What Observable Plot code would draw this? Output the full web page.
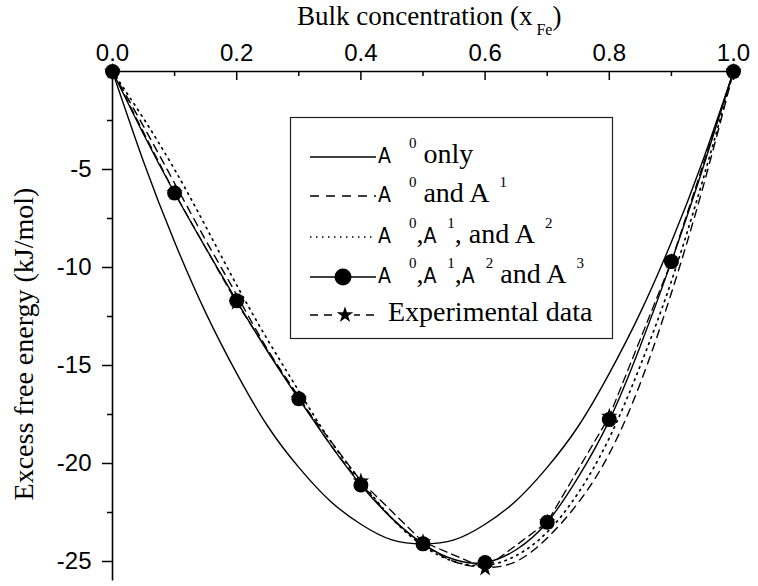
<!DOCTYPE html>
<html>
<head>
<meta charset="utf-8">
<script src="https://cdn.jsdelivr.net/npm/d3@7"></script>
<script src="https://cdn.jsdelivr.net/npm/@observablehq/plot@0.6"></script>
<style>
  html, body { margin: 0; padding: 0; background: #fff; }
  #chart { width: 758px; height: 586px; }
</style>
</head>
<body>
<div id="chart"></div>
<script>
// ---- data ----
const xGrid = [0, 0.05, 0.1, 0.15, 0.2, 0.25, 0.3, 0.35, 0.4, 0.45, 0.5, 0.55, 0.6, 0.65, 0.7, 0.75, 0.8, 0.85, 0.9, 0.95, 1.0];
const a0Only   = [0, -4.6, -8.7, -12.3, -15.4, -18.1, -20.2, -21.9, -23.1, -23.9, -24.1, -23.9, -23.1, -21.9, -20.2, -18.1, -15.4, -12.3, -8.7, -4.6, 0];
const a0a1     = [0, -2.8, -5.7, -8.6, -11.4, -14.2, -16.6, -19.0, -21.0, -22.8, -24.1, -25.0, -25.3, -25.0, -23.8, -22.0, -19.5, -15.9, -11.3, -6.0, 0];
const a0a1a2   = [0, -2.4, -5.0, -7.9, -10.9, -13.7, -16.3, -18.8, -20.9, -22.8, -24.2, -25.0, -25.2, -24.7, -23.5, -21.5, -18.7, -15.0, -10.7, -5.6, 0];
const a0a1a2a3 = [0, -3.2, -6.2, -9.0, -11.7, -14.3, -16.7, -19.0, -21.1, -22.8, -24.1, -24.9, -25.05, -24.4, -23.0, -20.7, -17.8, -14.0, -9.7, -5.0, 0];

const xPoints   = [0, 0.1, 0.2, 0.3, 0.4, 0.5, 0.6, 0.7, 0.8, 0.9, 1.0];
const fitPoints = [0, -6.2, -11.7, -16.7, -21.1, -24.1, -25.05, -23.0, -17.76, -9.7, 0];
const expPoints = [0, -6.2, -11.8, -16.7, -20.9, -24.0, -25.35, -23.0, -17.6, -9.7, 0];

const xTickValues  = [0, 0.2, 0.4, 0.6, 0.8, 1.0];
const xMinorTicks  = [0.1, 0.3, 0.5, 0.7, 0.9];
const yTickValues  = [-5, -10, -15, -20, -25];
const yMinorTicks  = [-2.5, -7.5, -12.5, -17.5, -22.5];

const xTitle = "Bulk concentration (x";
const xTitleSub = "Fe";
const yTitle = "Excess free energy (kJ/mol)";

// ---- build tables ----
const rows = (xs, ys) => xs.map((x, i) => ({x, y: ys[i]}));
const curveA0 = rows(xGrid, a0Only);
const curveA01 = rows(xGrid, a0a1);
const curveA012 = rows(xGrid, a0a1a2);
const curveA0123 = rows(xGrid, a0a1a2a3);
const fitRows = rows(xPoints, fitPoints);
const expRows = rows(xPoints, expPoints);

const SERIF = "'Liberation Serif', 'Times New Roman', Times, serif";
const SANS = "'Liberation Sans', Arial, sans-serif";
const NARROW = "'Liberation Sans Narrow', 'Arial Narrow', 'DejaVu Sans Condensed', sans-serif";

const svg = Plot.plot({
  width: 758,
  height: 586,
  marginTop: 71,
  marginLeft: 112,
  marginRight: 25,
  marginBottom: 5.4,
  x: {domain: [0, 1]},
  y: {domain: [-26, 0]},
  style: {background: "white", fontFamily: SANS, color: "black", overflow: "visible"},
  marks: [
    // axis lines
    Plot.ruleY([0], {x1: 0, x2: 1, stroke: "black", strokeWidth: 1.6}),
    Plot.ruleX([0], {y1: -26, y2: 0, stroke: "black", strokeWidth: 1.6}),
    // top axis ticks (inward)
    Plot.ruleX(xTickValues, {y1: 0, y2: 0, insetBottom: -9, stroke: "black", strokeWidth: 1.5}),
    Plot.ruleX(xMinorTicks, {y1: 0, y2: 0, insetBottom: -5, stroke: "black", strokeWidth: 1.5}),
    Plot.axisX({anchor: "top", ticks: xTickValues, tickSize: 0, tickPadding: 11, fontSize: 24,
      tickFormat: d3.format(".1f"), label: null, fontFamily: SANS}),
    // left axis
    Plot.axisY({anchor: "left", ticks: yTickValues, tickSize: 10, tickPadding: 11, fontSize: 24,
      tickFormat: d => String(d), label: null, strokeWidth: 1.5, fontFamily: SANS}),
    Plot.ruleY(yMinorTicks, {x1: 0, x2: 0, insetLeft: -5, stroke: "black", strokeWidth: 1.5}),
    // curves
    Plot.line(curveA0, {x: "x", y: "y", curve: "natural", stroke: "black", strokeWidth: 1.4}),
    Plot.line(curveA01, {x: "x", y: "y", curve: "natural", stroke: "black", strokeWidth: 1.4, strokeDasharray: "8,6"}),
    Plot.line(curveA012, {x: "x", y: "y", curve: "natural", stroke: "black", strokeWidth: 1.7, strokeDasharray: "1.5,5"}),
    Plot.line(curveA0123, {x: "x", y: "y", curve: "natural", stroke: "black", strokeWidth: 1.4}),
    Plot.line(expRows, {x: "x", y: "y", stroke: "black", strokeWidth: 1.3, strokeDasharray: "8,5"}),
    Plot.dot(expRows, {x: "x", y: "y", symbol: "star", r: 5.2, fill: "black", stroke: "none"}),
    Plot.dot(fitRows, {x: "x", y: "y", r: 7.5, fill: "black", stroke: "none"})
  ]
});

document.getElementById("chart").appendChild(svg);
const root = d3.select(svg);

// ---- x title (top) ----
const xt = root.append("text")
  .attr("x", 297).attr("y", 25).attr("text-anchor", "start")
  .attr("font-family", SERIF).attr("font-size", 27).attr("fill", "black");
xt.append("tspan").text(xTitle);
xt.append("tspan").attr("dx", 4).attr("dy", 10).attr("font-size", 16).text(xTitleSub);
xt.append("tspan").attr("dy", -10).text(")");

// ---- y title ----
root.append("text")
  .attr("transform", "translate(33,344) rotate(-90)")
  .attr("text-anchor", "middle")
  .attr("font-family", SERIF).attr("font-size", 28).attr("fill", "black")
  .text(yTitle);

// ---- legend ----
const legendItems = [
  {key: "a0", segs: [["n", "A"], ["sup", "0", 18], ["s", " only"]]},
  {key: "a01", segs: [["n", "A"], ["sup", "0", 18], ["s", " and A"], ["sup", "1", 10]]},
  {key: "a012", segs: [["n", "A"], ["sup", "0", 18], ["s", ","], ["n", "A"], ["sup", "1", 11], ["s", ", and A"], ["sup", "2", 10]]},
  {key: "a0123", segs: [["n", "A"], ["sup", "0", 18], ["s", ","], ["n", "A"], ["sup", "1", 11], ["s", ","], ["n", "A"], ["sup", "2", 11], ["s", " and A"], ["sup", "3", 10]]},
  {key: "exp", segs: [["s", "Experimental data"]]}
];
const legendY = [157, 196, 237, 277, 315];
const lg = root.append("g").attr("text-anchor", "start");
lg.append("rect").attr("x", 290.5).attr("y", 117.5).attr("width", 322).attr("height", 221)
  .attr("fill", "white").attr("stroke", "#222").attr("stroke-width", 1.2);

legendItems.forEach((item, i) => {
  const y = legendY[i];
  const line = (dash, sw) => lg.append("line").attr("x1", 310).attr("x2", 376).attr("y1", y).attr("y2", y)
    .attr("stroke", "black").attr("stroke-width", sw).attr("stroke-dasharray", dash);
  if (item.key === "a0") line(null, 1.4);
  if (item.key === "a01") line("9,7", 1.4);
  if (item.key === "a012") line("1.5,4.5", 1.7);
  if (item.key === "a0123") {
    line(null, 1.4);
    lg.append("circle").attr("cx", 343).attr("cy", y).attr("r", 8.5).attr("fill", "black");
  }
  if (item.key === "exp") {
    line("8,6", 1.3);
    lg.append("rect").attr("x", 336).attr("y", y - 9).attr("width", 18).attr("height", 18).attr("fill", "white");
    lg.append("path").attr("transform", `translate(345,${y})`)
      .attr("d", d3.symbol(d3.symbolStar, Math.PI * 5.2 * 5.2)()).attr("fill", "black");
  }
  const t = lg.append("text").attr("x", item.key === "exp" ? 388 : 378).attr("y", y + 6)
    .attr("text-anchor", "start")
    .attr("fill", "black").attr("font-family", SERIF).attr("font-size", 28);
  let raised = false;
  item.segs.forEach(([kind, str, dx]) => {
    const sp = t.append("tspan").text(str).style("white-space", "pre");
    if (kind === "sup") {
      sp.attr("font-size", 15).attr("font-family", SERIF).attr("dx", dx).attr("dy", -15);
      raised = true;
    } else {
      if (raised) { sp.attr("dy", 15); raised = false; }
      if (kind === "n") sp.attr("font-family", NARROW).attr("font-size", 21);
      else sp.attr("font-family", SERIF).attr("font-size", 28);
    }
  });
});
</script>
</body>
</html>
